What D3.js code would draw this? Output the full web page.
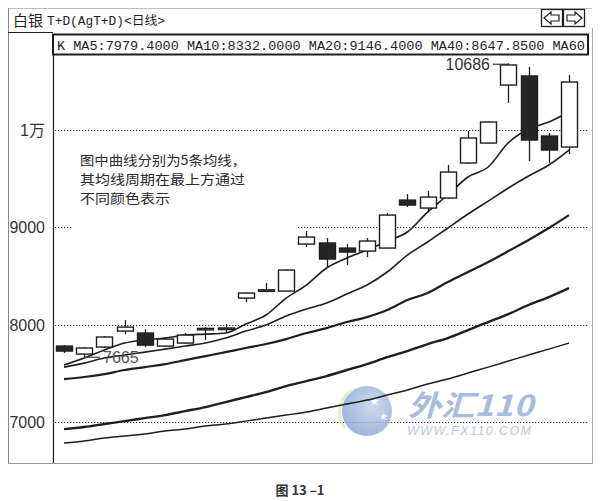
<!DOCTYPE html>
<html><head><meta charset="utf-8">
<script src="https://cdn.jsdelivr.net/npm/d3@7"></script>
<style>body{margin:0;background:#fff}svg{display:block}</style>
</head><body>
<svg id="c" width="603" height="501"></svg>
<script>
// ---- data ----
const opens  = [7780,7698,7770,7934,7914,7780,7811,7955,7962,8273,8352,8345,8828,8839,8787,8756,8787,9280,9198,9301,9661,9866,10462,10555,9938,9825];
const closes = [7729,7760,7873,7975,7790,7852,7893,7962,7966,8325,8358,8561,8900,8674,8746,8859,9126,9229,9311,9568,9918,10082,10668,9897,9794,10493];
const highs  = [7790,7770,7883,8047,7955,7873,7914,7975,8006,8330,8428,8570,8962,8890,8828,8890,9147,9342,9373,9640,9990,10090,10686,10647,9969,10565];
const lows   = [7708,7665,7760,7903,7770,7770,7801,7842,7924,8232,8335,8345,8798,8582,8613,8695,8787,9209,9168,9291,9651,9866,10277,9681,9661,9753];
const ma5  = [7585,7657,7739,7811,7842,7862,7893,7903,7914,8006,8099,8273,8407,8582,8685,8767,8859,8952,9157,9332,9517,9620,9870,10010,10082,10185];
const ma10 = [7564,7605,7657,7688,7718,7749,7780,7811,7862,7934,7996,8088,8160,8222,8315,8407,8541,8715,8849,8993,9137,9270,9404,9527,9640,9794];
const ma20 = [7441,7462,7492,7534,7564,7595,7636,7677,7718,7760,7801,7852,7914,7965,8027,8078,8150,8253,8325,8438,8541,8643,8756,8870,8993,9126];
const ma40 = [6927,6948,6979,7009,7040,7071,7112,7153,7205,7256,7307,7369,7420,7472,7534,7595,7667,7729,7801,7862,7945,8027,8109,8202,8284,8376];
const ma60 = [6783,6804,6835,6855,6876,6907,6927,6958,6979,7009,7040,7071,7102,7143,7184,7225,7277,7328,7390,7441,7503,7564,7626,7688,7749,7811];
const yTicks = [7000,8000,9000,10000];
const yTickLabels = ["7000","8000","9000","1万"];
const headerTitle = "白银";
const headerSub = "T+D(AgT+D)<日线>";
const maLegend = "K MA5:7979.4000 MA10:8332.0000 MA20:9146.4000 MA40:8647.8500 MA60";
const noteLines = ["图中曲线分别为5条均线，","其均线周期在最上方通过","不同颜色表示"];
const highLabel = "10686", lowLabel = "7665";
const caption = "图 13 –1";

// ---- layout ----
const svg = d3.select("#c");
const x = d3.scaleLinear().domain([0, opens.length-1]).range([64, 569]);
const y = d3.scaleLinear().domain([7000, 10000]).range([422, 130]);
const bodyW = 16;
const ink = "#1e1e1e";

// frame
svg.append("line").attr("x1",8).attr("x2",592).attr("y1",8.5).attr("y2",8.5).attr("stroke","#bbb");
svg.append("line").attr("x1",8.5).attr("x2",8.5).attr("y1",8).attr("y2",463.5).attr("stroke","#888");
svg.append("line").attr("x1",592.5).attr("x2",592.5).attr("y1",28).attr("y2",463.5).attr("stroke","#aaa");
svg.append("line").attr("x1",8).attr("x2",593).attr("y1",463.5).attr("y2",463.5).attr("stroke","#999");
svg.append("line").attr("x1",8).attr("x2",53).attr("y1",32.5).attr("y2",32.5).attr("stroke",ink);
svg.append("line").attr("x1",53.5).attr("x2",53.5).attr("y1",34).attr("y2",463).attr("stroke",ink).attr("stroke-width",1.2);

// header
svg.append("text").attr("x",13).attr("y",26).attr("font-family","Noto Sans CJK SC").attr("font-size",15).attr("fill",ink).text(headerTitle);
svg.append("text").attr("x",47).attr("y",25).attr("font-family","Liberation Mono, Noto Sans CJK SC").attr("font-size",12.5)
  .attr("textLength",118).attr("lengthAdjust","spacingAndGlyphs").attr("fill",ink).text(headerSub);
// arrow buttons
const btn = svg.append("g");
btn.append("rect").attr("x",541.5).attr("y",9.5).attr("width",21).attr("height",17).attr("fill","#fff").attr("stroke",ink).attr("stroke-width",1.3);
btn.append("rect").attr("x",563.5).attr("y",9.5).attr("width",21).attr("height",17).attr("fill","#fff").attr("stroke",ink).attr("stroke-width",1.3);
btn.append("path").attr("d","M544,18 L551,12 L551,15 L559,15 L559,21 L551,21 L551,24 Z").attr("fill","none").attr("stroke",ink).attr("stroke-width",1.2);
btn.append("path").attr("d","M582,18 L575,12 L575,15 L567,15 L567,21 L575,21 L575,24 Z").attr("fill","none").attr("stroke",ink).attr("stroke-width",1.2);

// legend box
svg.append("rect").attr("x",53).attr("y",34.5).attr("width",535).attr("height",20).attr("fill","#fff").attr("stroke",ink).attr("stroke-width",2);
svg.append("text").attr("x",57).attr("y",49.5).attr("font-family","Liberation Mono").attr("font-size",13.5)
  .attr("textLength",528).attr("lengthAdjust","spacingAndGlyphs").attr("fill",ink).text(maLegend);

// gridlines
svg.append("g").selectAll("line").data(yTicks).join("line")
  .attr("x1",55).attr("x2",588).attr("y1",d=>Math.round(y(d))+0.5).attr("y2",d=>Math.round(y(d))+0.5)
  .attr("stroke","#333").attr("stroke-width",1).attr("stroke-dasharray","1.3,1.7");

// y labels
svg.append("g").selectAll("text").data(yTicks).join("text")
  .attr("x",45).attr("y",d=>y(d)+6).attr("text-anchor","end")
  .attr("font-family","Liberation Sans, Noto Sans CJK SC").attr("font-size",16).attr("fill","#333")
  .text((d,i)=>yTickLabels[i]);

// note box (covers gridline)
svg.append("rect").attr("x",72).attr("y",146).attr("width",224).attr("height",86).attr("fill","#fff");
svg.append("g").selectAll("text").data(noteLines).join("text")
  .attr("x",80).attr("y",(d,i)=>165+i*18.9)
  .attr("font-family","Noto Sans CJK SC").attr("font-size",13).attr("fill","#2a2a2a")
  .attr("textLength",(d,i)=>[166,165,90][i]).attr("lengthAdjust","spacingAndGlyphs").text(d=>d);

// watermark
const wm = svg.append("g").attr("opacity",0.8);
const grad = svg.append("defs").append("radialGradient").attr("id","wg").attr("cx","60%").attr("cy","40%").attr("r","70%");
grad.append("stop").attr("offset","0%").attr("stop-color","#c2d2ec");
grad.append("stop").attr("offset","100%").attr("stop-color","#7f9dd0");
wm.append("circle").attr("cx",367).attr("cy",411).attr("r",25).attr("fill","url(#wg)");
wm.append("path").attr("d","M345,428 A26,26 0 0 1 352,390").attr("fill","none").attr("stroke","#dfe8b8").attr("stroke-width",3);
wm.append("text").attr("x",374).attr("y",405).attr("text-anchor","middle").attr("font-size",12).attr("fill","#fff").text("★");
wm.append("text").attr("x",383).attr("y",420).attr("text-anchor","middle").attr("font-size",10).attr("fill","#fff").text("★");
wm.append("text").attr("x",408).attr("y",416).attr("font-family","Noto Sans CJK SC").attr("font-weight","bold").attr("font-style","italic")
  .attr("font-size",29).attr("fill","#94acd8").attr("textLength",125).attr("lengthAdjust","spacingAndGlyphs").text("外汇110");
wm.append("text").attr("x",407).attr("y",435).attr("font-family","Liberation Sans").attr("font-style","italic")
  .attr("font-size",12.5).attr("fill","#a9b8d2").attr("textLength",124).attr("lengthAdjust","spacing").text("WWW.FX110.COM");

// MA lines
const line = d3.line().x((d,i)=>x(i)).y(d=>y(d)).curve(d3.curveMonotoneX);
const series = [[ma60,1.5],[ma40,2.4],[ma20,2.2],[ma10,1.6],[ma5,1.6]];
svg.append("g").selectAll("path").data(series).join("path")
  .attr("d",d=>line(d[0])).attr("fill","none").attr("stroke",ink).attr("stroke-width",d=>d[1]);

// candles
const cg = svg.append("g");
opens.forEach((o,i)=>{
  const c = closes[i], up = c >= o;
  const cx = Math.round(x(i))+0.5;
  cg.append("line").attr("x1",cx).attr("x2",cx).attr("y1",y(highs[i])).attr("y2",y(lows[i])).attr("stroke",ink).attr("stroke-width",1.3);
  const top = y(Math.max(o,c)), bot = y(Math.min(o,c));
  const h = Math.max(bot-top, 1.5);
  cg.append("rect").attr("x",cx-bodyW/2).attr("y",top).attr("width",bodyW).attr("height",h)
    .attr("fill",up ? "#fff" : "#262626").attr("stroke",ink).attr("stroke-width",1.4);
});

// high / low labels
svg.append("line").attr("x1",493).attr("x2",x(22)).attr("y1",y(10686)+1).attr("y2",y(10686)+1).attr("stroke","#333").attr("stroke-width",1.2);
svg.append("text").attr("x",490).attr("y",y(10686)+7).attr("text-anchor","end").attr("font-family","Liberation Sans").attr("font-size",16).attr("fill","#333").text(highLabel);
svg.append("line").attr("x1",x(1)).attr("x2",100).attr("y1",y(7665)).attr("y2",y(7665)).attr("stroke","#444").attr("stroke-width",1.2);
svg.append("text").attr("x",103).attr("y",y(7665)+6).attr("font-family","Liberation Sans").attr("font-size",16).attr("fill","#555").text(lowLabel);

// caption
svg.append("text").attr("x",300).attr("y",495).attr("text-anchor","middle").attr("font-family","Noto Sans CJK SC").attr("font-weight","bold")
  .attr("font-size",13).attr("fill","#333").text(caption);
</script>
</body></html>
